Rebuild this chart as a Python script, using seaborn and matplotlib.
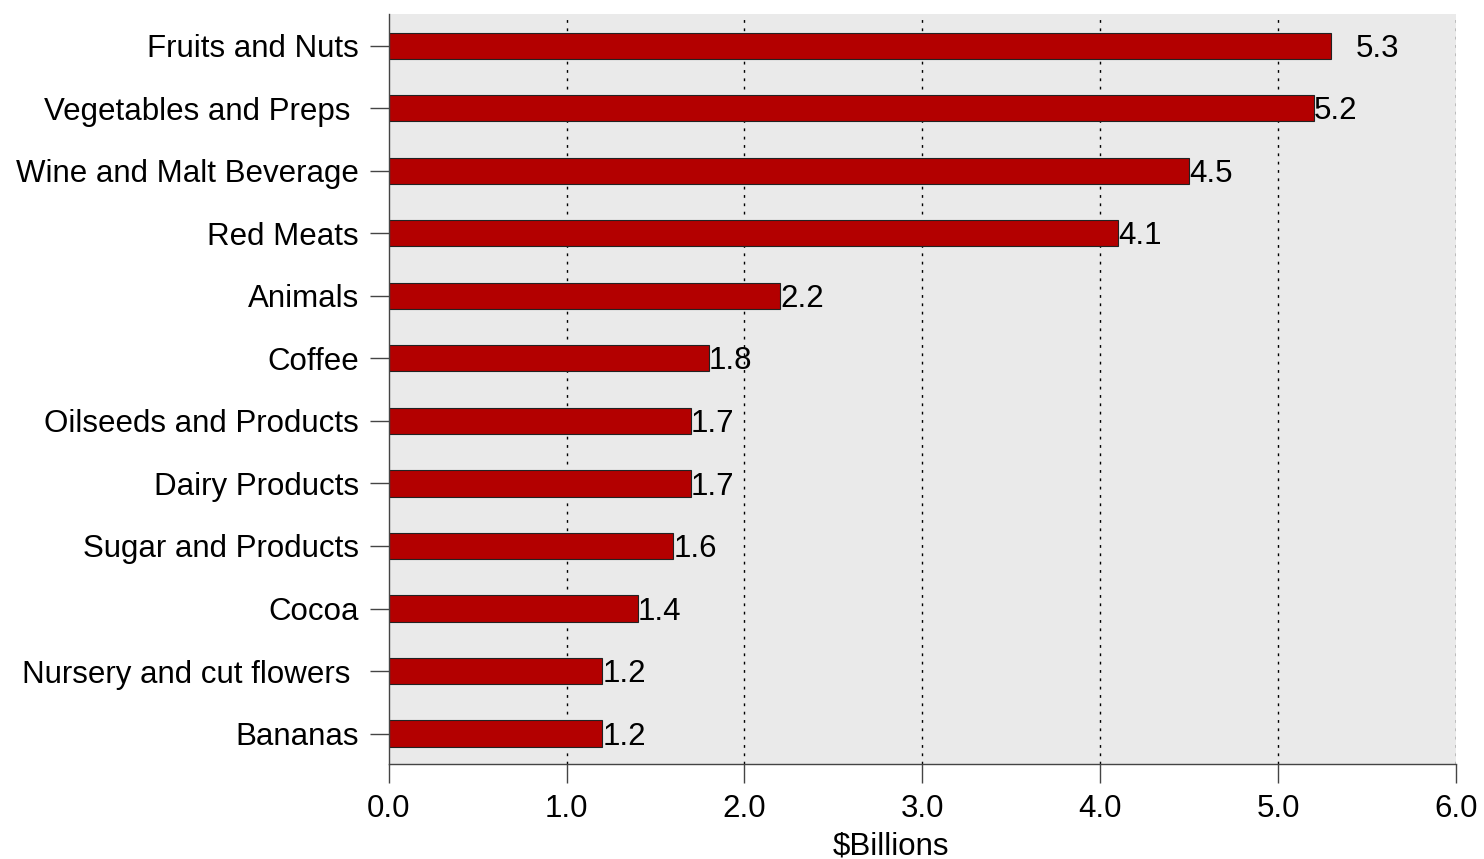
import seaborn as sns
import pandas as pd
import matplotlib.pyplot as plt

categories = ["Fruits and Nuts", "Vegetables and Preps ", "Wine and Malt Beverage",
              "Red Meats", "Animals", "Coffee", "Oilseeds and Products",
              "Dairy Products", "Sugar and Products", "Cocoa",
              "Nursery and cut flowers ", "Bananas"]
values = [5.3, 5.2, 4.5, 4.1, 2.2, 1.8, 1.7, 1.7, 1.6, 1.4, 1.2, 1.2]

df = pd.DataFrame({"cat": categories, "val": values})

sns.set_style("white")
plt.rcParams['font.family'] = ['Liberation Sans', 'DejaVu Sans']
plt.rcParams['text.color'] = 'black'
plt.rcParams['xtick.color'] = 'black'
plt.rcParams['ytick.color'] = 'black'
plt.rcParams['axes.labelcolor'] = 'black'

fs = 22.5

fig = plt.figure(figsize=(14.84, 8.59), dpi=100)
ax = fig.add_axes([0.262, 0.111, 0.719, 0.873])
ax.set_facecolor("#EAEAEA")

sns.barplot(data=df, x="val", y="cat", orient="h", color="#B30000",
            saturation=1, width=0.42, edgecolor="#222222", linewidth=0.8, ax=ax)

# dotted grid
for gx in [1, 2, 3, 4, 5, 6]:
    ax.axvline(gx, color="black", linestyle=(0, (2, 4)), linewidth=1.0, zorder=0)
ax.set_axisbelow(True)

for i, v in enumerate(values):
    off = 0.14 if i == 0 else 0.0
    ax.text(v + off, i + 0.05, f"{v:.1f}", va="center", ha="left", fontsize=fs,
            color="black")

ax.set_xlim(0, 6)
ax.set_ylim(11.48, -0.51)
ax.set_xticks([0, 1, 2, 3, 4, 5, 6])
ax.set_xticklabels([f"{t:.1f}" for t in range(7)])
ax.tick_params(axis="both", labelsize=fs, length=13.5, width=1, color="#444444",
               direction="out", bottom=True, left=True)
ax.tick_params(axis="x", pad=8)
ax.tick_params(axis="y", pad=8)
ax.set_xlabel("\\$Billions", fontsize=fs)
ax.xaxis.set_label_coords(0.471, -0.09)
ax.set_ylabel("")
for s in ["top", "right"]:
    ax.spines[s].set_visible(False)
for s in ["left", "bottom"]:
    ax.spines[s].set_color("#444444")
    ax.spines[s].set_linewidth(1)

fig.savefig("out.png", dpi=100)
